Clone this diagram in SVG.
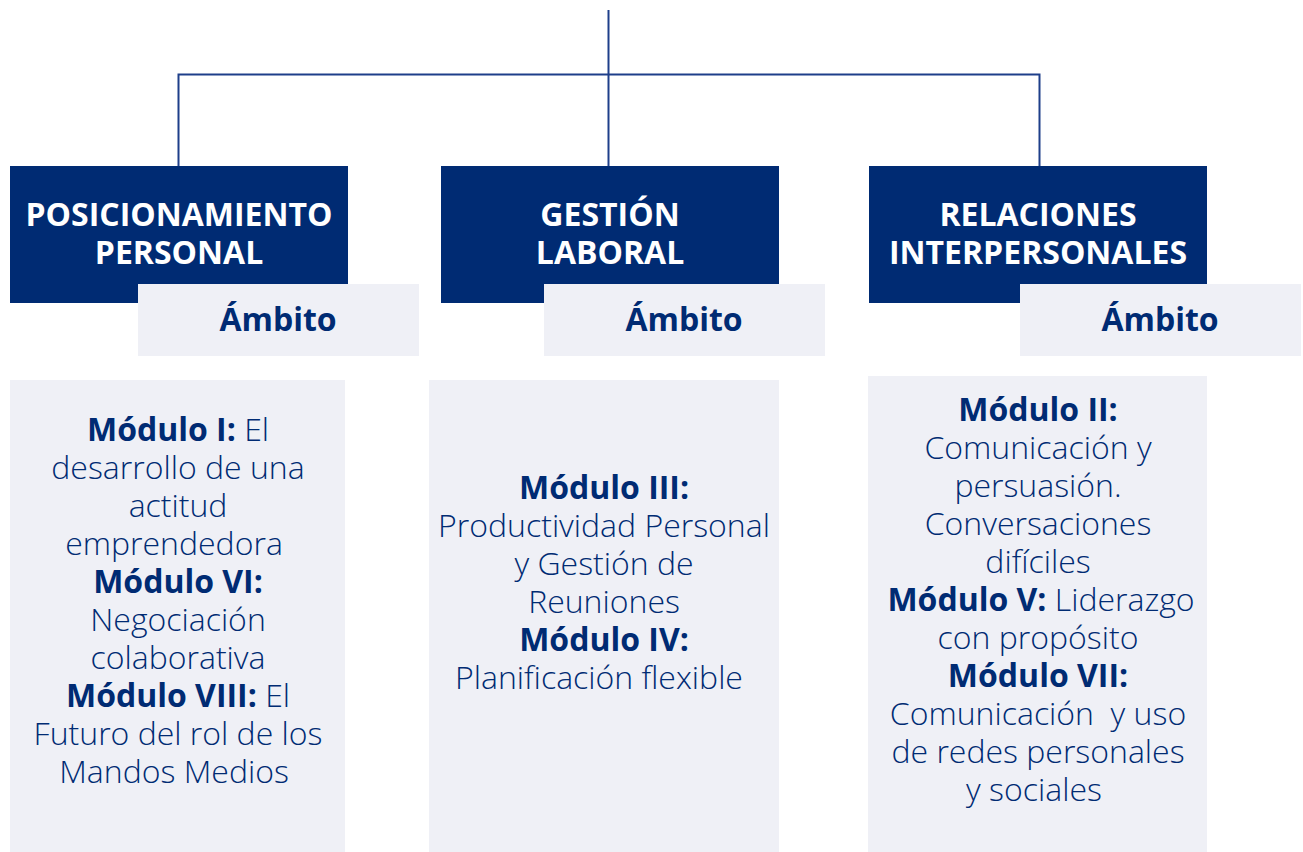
<svg xmlns="http://www.w3.org/2000/svg" width="1303" height="852" viewBox="0 0 1303 852">
<style>
.hdr{fill:#002b73}
.amb{fill:#eff0f6}
.ht{font-family:"Open Sans","Liberation Sans",sans-serif;font-weight:700;font-size:32px;fill:#ffffff;text-anchor:middle}
.at{font-family:"Open Sans","Liberation Sans",sans-serif;font-weight:700;font-size:32px;fill:#002b73;text-anchor:middle}
.ct{font-family:"Open Sans","Liberation Sans",sans-serif;font-weight:300;font-size:32px;fill:#002b73;text-anchor:middle}
.ct tspan.b{font-weight:700}
.con{stroke:#1e3f8a;stroke-width:2;fill:none}
</style>
<rect width="1303" height="852" fill="#ffffff"/>
<g id="connectors">
<path class="con" d="M608.5 10 V166"/>
<path class="con" d="M178.5 166 V74.5 H1039.5 V166"/>
</g>
<g id="node-posicionamiento">
<rect class="hdr" x="10" y="166" width="338" height="137"/>
<text class="ht" x="179" y="226">POSICIONAMIENTO</text>
<text class="ht" x="179" y="264">PERSONAL</text>
<rect class="amb" x="138" y="284" width="281" height="72"/>
<text class="at" x="278" y="331">Ámbito</text>
</g>
<g id="node-gestion">
<rect class="hdr" x="441" y="166" width="338" height="137"/>
<text class="ht" x="610" y="226">GESTIÓN</text>
<text class="ht" x="610" y="264">LABORAL</text>
<rect class="amb" x="544" y="284" width="281" height="72"/>
<text class="at" x="684" y="331">Ámbito</text>
</g>
<g id="node-relaciones">
<rect class="hdr" x="869" y="166" width="338" height="137"/>
<text class="ht" x="1038" y="226">RELACIONES</text>
<text class="ht" x="1038" y="264">INTERPERSONALES</text>
<rect class="amb" x="1020" y="284" width="281" height="72"/>
<text class="at" x="1160" y="331">Ámbito</text>
</g>
<g id="content-1">
<rect class="amb" x="10" y="380" width="335" height="472"/>
<text class="ct" x="178" y="441"><tspan class="b">Módulo I:</tspan> El</text>
<text class="ct" x="178" y="479">desarrollo de una</text>
<text class="ct" x="178" y="517">actitud</text>
<text class="ct" x="174" y="555">emprendedora</text>
<text class="ct" x="178" y="593"><tspan class="b">Módulo VI:</tspan></text>
<text class="ct" x="178" y="631">Negociación</text>
<text class="ct" x="178" y="669">colaborativa</text>
<text class="ct" x="178" y="707"><tspan class="b">Módulo VIII:</tspan> El</text>
<text class="ct" x="178" y="745">Futuro del rol de los</text>
<text class="ct" x="174" y="783">Mandos Medios</text>
</g>
<g id="content-2">
<rect class="amb" x="429" y="380" width="350" height="472"/>
<text class="ct" x="604" y="499"><tspan class="b">Módulo III:</tspan></text>
<text class="ct" x="604" y="537">Productividad Personal</text>
<text class="ct" x="604" y="575">y Gestión de</text>
<text class="ct" x="604" y="613">Reuniones</text>
<text class="ct" x="604" y="651"><tspan class="b">Módulo IV:</tspan></text>
<text class="ct" x="599" y="689">Planificación flexible</text>
</g>
<g id="content-3">
<rect class="amb" x="868" y="376" width="339" height="476"/>
<text class="ct" x="1038" y="421"><tspan class="b">Módulo II:</tspan></text>
<text class="ct" x="1038" y="459">Comunicación y</text>
<text class="ct" x="1038" y="497">persuasión.</text>
<text class="ct" x="1038" y="535">Conversaciones</text>
<text class="ct" x="1038" y="573">difíciles</text>
<text class="ct" x="1041" y="611"><tspan class="b">Módulo V:</tspan> Liderazgo</text>
<text class="ct" x="1038" y="649">con propósito</text>
<text class="ct" x="1038" y="687"><tspan class="b">Módulo VII:</tspan></text>
<text class="ct" x="1038" y="725" xml:space="preserve">Comunicación  y uso</text>
<text class="ct" x="1038" y="763">de redes personales</text>
<text class="ct" x="1034" y="801">y sociales</text>
</g>
</svg>
